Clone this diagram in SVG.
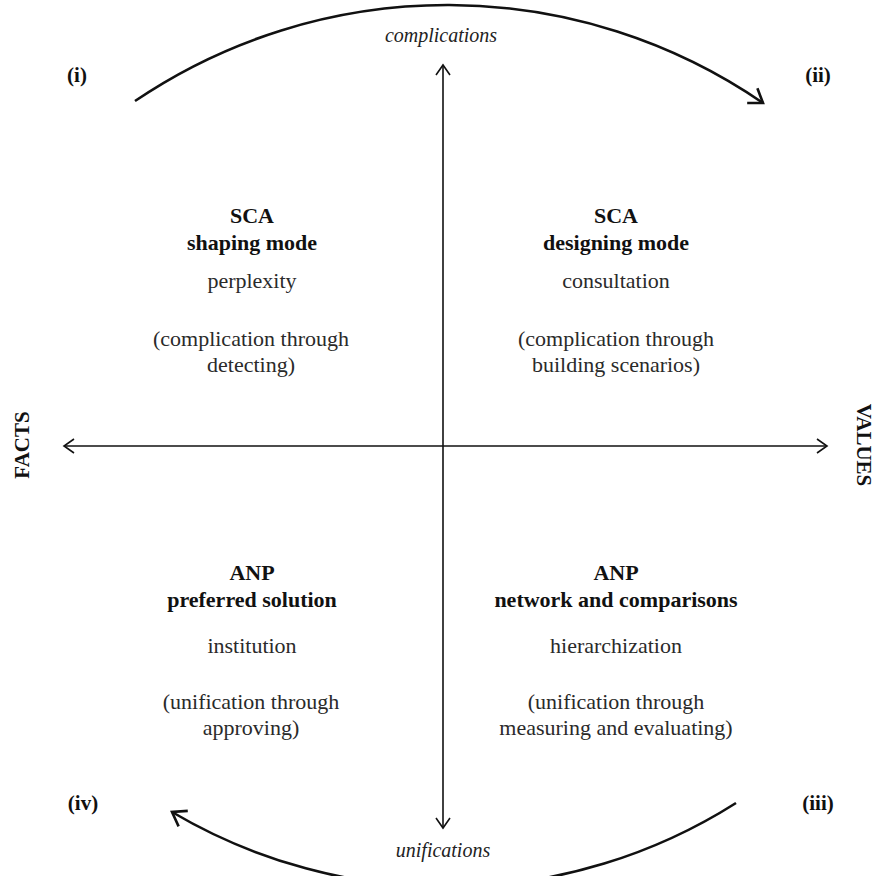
<svg xmlns="http://www.w3.org/2000/svg" width="877" height="876" viewBox="0 0 877 876">
<defs>
<style>
text{font-family:"Liberation Serif","Times New Roman",serif;text-anchor:middle;}
.t{font-size:22px;font-weight:bold;fill:#111;}
.b{font-size:22px;fill:#2a2a2a;}
.i{font-size:20px;font-style:italic;fill:#222;}
.n{font-size:21px;font-weight:bold;fill:#111;}
.ax{stroke:#111;stroke-width:1.6;fill:none;}
.arc{stroke:#111;stroke-width:2.6;fill:none;}
</style>
<marker id="ah" markerUnits="userSpaceOnUse" markerWidth="20" markerHeight="20" refX="10" refY="7" orient="auto-start-reverse" overflow="visible">
<path d="M0,0 L10,7 L0,14" fill="none" stroke="#111" stroke-width="1.6"/>
</marker>
<marker id="ah2" markerUnits="userSpaceOnUse" markerWidth="24" markerHeight="24" refX="13" refY="9" orient="auto" overflow="visible">
<path d="M0,0 L13,9 L0,18" fill="none" stroke="#111" stroke-width="2.6"/>
</marker>
</defs>
<rect width="877" height="876" fill="#fff"/>
<g id="connectors">
<line class="ax" x1="443" y1="65" x2="443" y2="828" marker-start="url(#ah)" marker-end="url(#ah)"/>
<line class="ax" x1="64" y1="446" x2="827" y2="446" marker-start="url(#ah)" marker-end="url(#ah)"/>
<path id="arc-top" class="arc" d="M135,101 A557,557 0 0 1 763,103" marker-end="url(#ah2)"/>
<path id="arc-bottom" class="arc" d="M736,803 A540,540 0 0 1 172,812" marker-end="url(#ah2)"/>
</g>
<g id="label-complications"><text class="i" x="441" y="42">complications</text></g>
<g id="label-unifications"><text class="i" x="443" y="857">unifications</text></g>
<g id="label-i"><text class="n" x="77" y="82">(i)</text></g>
<g id="label-ii"><text class="n" x="818" y="82">(ii)</text></g>
<g id="label-iii"><text class="n" x="818" y="810">(iii)</text></g>
<g id="label-iv"><text class="n" x="83" y="810">(iv)</text></g>
<g id="label-facts"><text class="n" transform="translate(29,445) rotate(-90)">FACTS</text></g>
<g id="label-values"><text class="n" transform="translate(857,445) rotate(90)">VALUES</text></g>
<g id="q1">
<text class="t" x="252" y="223">SCA</text>
<text class="t" x="252" y="250">shaping mode</text>
<text class="b" x="252" y="288">perplexity</text>
<text class="b" x="251" y="346">(complication through</text>
<text class="b" x="251" y="372">detecting)</text>
</g>
<g id="q2">
<text class="t" x="616" y="223">SCA</text>
<text class="t" x="616" y="250">designing mode</text>
<text class="b" x="616" y="288">consultation</text>
<text class="b" x="616" y="346">(complication through</text>
<text class="b" x="616" y="372">building scenarios)</text>
</g>
<g id="q4">
<text class="t" x="252" y="580">ANP</text>
<text class="t" x="252" y="607">preferred solution</text>
<text class="b" x="252" y="653">institution</text>
<text class="b" x="251" y="709">(unification through</text>
<text class="b" x="251" y="735">approving)</text>
</g>
<g id="q3">
<text class="t" x="616" y="580">ANP</text>
<text class="t" x="616" y="607">network and comparisons</text>
<text class="b" x="616" y="653">hierarchization</text>
<text class="b" x="616" y="709">(unification through</text>
<text class="b" x="616" y="735">measuring and evaluating)</text>
</g>
</svg>
